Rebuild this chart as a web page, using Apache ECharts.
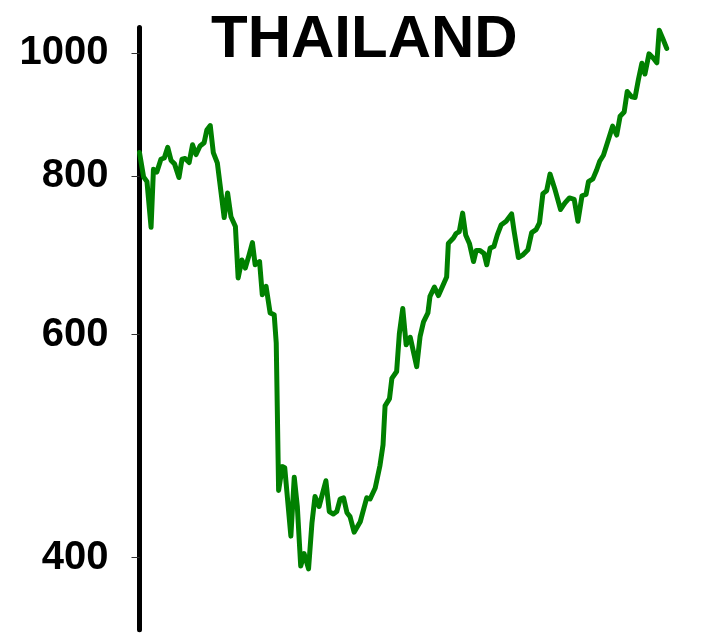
<!DOCTYPE html>
<html>
<head>
<meta charset="utf-8">
<script src="https://cdn.jsdelivr.net/npm/echarts@6/dist/echarts.min.js"></script>
<style>
html,body{margin:0;padding:0;background:#fff;}
#chart{width:708px;height:639px;}
</style>
</head>
<body>
<div id="chart"></div>
<script>
var weeks = [0.0,1.2,2.2,3.4,4.1,5.1,6.3,7.3,8.3,9.3,10.3,11.6,12.5,13.4,14.6,15.6,16.6,17.8,19.0,19.8,
  20.8,21.7,22.9,24.9,25.9,26.9,28.2,29.0,30.1,31.1,32.2,33.2,34.0,35.3,36.1,37.2,38.4,39.6,40.2,40.9,
  41.4,42.0,42.7,44.5,45.5,46.4,47.4,48.4,49.7,50.7,51.6,52.8,54.8,55.8,57.0,58.0,59.0,60.0,61.0,61.9,
  63.1,64.9,66.8,67.8,69.3,70.7,71.6,72.2,73.5,74.2,75.6,76.4,77.4,78.4,79.6,81.5,82.5,83.5,84.8,85.4,
  86.7,87.9,89.2,90.3,90.8,92.3,93.1,94.0,95.0,95.9,97.0,98.2,99.0,100.1,101.3,102.1,103.1,104.2,105.2,106.3,
  107.8,109.4,110.1,111.4,112.6,114.2,115.3,116.6,117.6,118.6,119.7,120.7,122.2,123.8,125.1,126.4,127.8,128.9,130.1,131.3,
  132.0,133.3,134.4,135.3,136.4,137.8,139.1,140.3,141.3,142.5,143.4,144.7,145.7,146.7,147.7,148.6,149.8,151.1,152.1,152.8,
  153.8,155.0];
// Index level
var indexValues = [835,799,792,729,810,806,825,827,843,823,818,798,825,826,820,847,832,845,850,870,
  877,835,819,742,776,743,730,665,687,677,693,709,681,685,645,655,624,622,591,452,
  451,472,471,416,463,439,394,403,392,426,447,439,460,435,433,435,445,446,434,431,
  419,427,446,445,454,473,491,527,534,554,561,601,629,589,597,566,598,614,624,643,
  654,644,656,666,708,715,721,723,748,719,708,685,699,699,695,681,702,704,719,732,
  737,747,725,690,693,700,722,726,735,775,779,803,780,753,762,769,767,737,772,774,
  792,796,809,822,831,854,876,862,892,899,933,924,923,954,982,963,999,991,983,1043,
  1028,1009];
var yTicks = [400, 600, 800, 1000];
var title = 'THAILAND';

var seriesData = weeks.map(function (w, i) { return [w, indexValues[i]]; });

var chart = echarts.init(document.getElementById('chart'), null, {renderer: 'canvas'});
chart.setOption({
  animation: false,
  backgroundColor: '#ffffff',
  title: {
    text: title,
    left: 206,
    top: 5,
    textStyle: {fontFamily: 'Liberation Sans', fontWeight: 'bold', fontSize: 60, color: '#000'}
  },
  grid: {left: 139.5, right: 41.3, top: 27.5, bottom: 9.2, containLabel: false},
  xAxis: {
    type: 'value', min: 0, max: 155, show: false
  },
  yAxis: {
    type: 'log',
    min: 350.9,
    max: 1048,
    splitLine: {show: false},
    axisLine: {show: true, lineStyle: {color: '#000', width: 5, cap: 'round'}},
    axisTick: {show: true, length: 8, customValues: yTicks, lineStyle: {color: '#333', width: 1}},
    axisLabel: {
      show: true, customValues: yTicks, margin: 31,
      formatter: function (v) { return String(Math.round(v)); },
      fontFamily: 'Liberation Sans', fontWeight: 'bold', fontSize: 40, color: '#000'
    }
  },
  series: [{
    type: 'line',
    data: seriesData,
    showSymbol: false,
    lineStyle: {color: '#008000', width: 5, join: 'round', cap: 'round'},
    itemStyle: {color: '#008000'}
  }]
});
</script>
</body>
</html>
